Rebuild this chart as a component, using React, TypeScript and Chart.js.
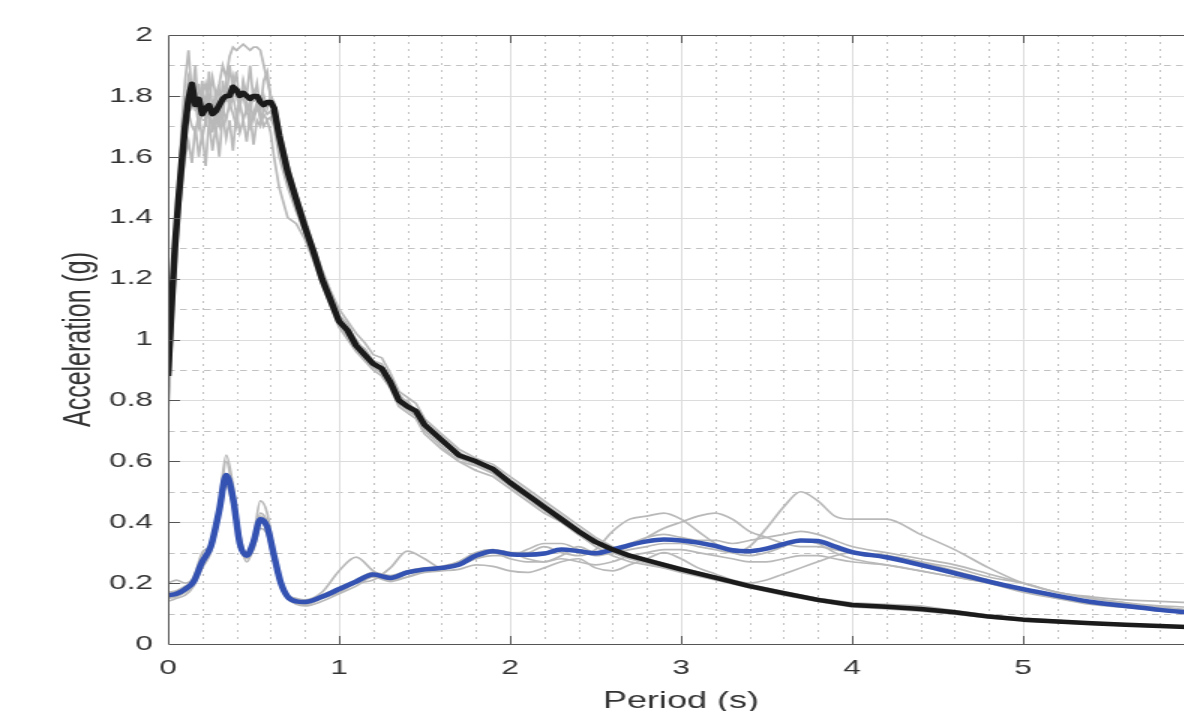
import React, { useEffect, useRef } from "react";
import { Chart, registerables } from "chart.js";

Chart.register(...registerables);

// ---------- data ----------
const periodsA = [
  0, 0.02, 0.04, 0.06, 0.08, 0.1, 0.12, 0.14, 0.16, 0.18, 0.2, 0.22, 0.24, 0.26, 0.28, 0.3,
  0.32, 0.34, 0.36, 0.38, 0.4, 0.42, 0.44, 0.46, 0.48, 0.5, 0.52, 0.54, 0.56, 0.58, 0.6, 0.62,
  0.65, 0.7, 0.75, 0.8, 0.85, 0.9, 0.95, 1.0, 1.05, 1.1, 1.15, 1.2, 1.25, 1.3, 1.35, 1.4, 1.45, 1.5,
  1.6, 1.7, 1.8, 1.9, 2.0, 2.1, 2.2, 2.3, 2.4, 2.5, 2.6, 2.7, 2.8, 2.9, 3.0,
  3.2, 3.4, 3.6, 3.8, 4.0, 4.2, 4.4, 4.6, 4.8, 5.0, 5.2, 5.4, 5.6, 5.8, 6.0,
];

const meanBlack = [
  0.88, 1.1, 1.3, 1.45, 1.58, 1.7, 1.79, 1.84, 1.77, 1.79, 1.74, 1.76, 1.77, 1.74, 1.75, 1.77,
  1.79, 1.8, 1.8, 1.83, 1.82, 1.8, 1.81, 1.8, 1.79, 1.8, 1.8, 1.78, 1.77, 1.78, 1.78, 1.76,
  1.67, 1.55, 1.46, 1.37, 1.29, 1.2, 1.13, 1.06, 1.03, 0.98, 0.95, 0.92, 0.905, 0.86, 0.8, 0.78, 0.765, 0.72,
  0.67, 0.62, 0.6, 0.575, 0.53, 0.49, 0.45, 0.41, 0.37, 0.335, 0.31, 0.29, 0.275, 0.26, 0.245,
  0.218, 0.19, 0.167, 0.145, 0.128, 0.122, 0.115, 0.104, 0.09, 0.08, 0.074, 0.068, 0.063, 0.059, 0.055,
];

const recA1 = [
  0.8, 1.05, 1.3, 1.5, 1.65, 1.75, 1.8, 1.78, 1.82, 1.76, 1.8, 1.84, 1.78, 1.86, 1.8, 1.84,
  1.9, 1.86, 1.93, 1.96, 1.95, 1.96, 1.97, 1.96, 1.95, 1.96, 1.96, 1.95, 1.9, 1.85, 1.8, 1.77,
  1.66, 1.55, 1.45, 1.36, 1.28, 1.2, 1.12, 1.07, 1.04, 1.0, 0.96, 0.92, 0.9, 0.86, 0.82, 0.79, 0.77, 0.73,
  0.68, 0.63, 0.6, 0.57, 0.53, 0.5, 0.46, 0.42, 0.38, 0.34, 0.31, 0.29, 0.27, 0.255, 0.24,
  0.215, 0.19, 0.17, 0.15, 0.135, 0.13, 0.125, 0.11, 0.095, 0.085, 0.078, 0.07, 0.065, 0.06, 0.056,
];
const recA2 = [
  0.78, 1.0, 1.25, 1.45, 1.7, 1.85, 1.95, 1.8, 1.9, 1.72, 1.85, 1.7, 1.88, 1.75, 1.82, 1.7,
  1.85, 1.78, 1.9, 1.82, 1.88, 1.76, 1.85, 1.8, 1.9, 1.78, 1.84, 1.76, 1.85, 1.88, 1.8, 1.75,
  1.68, 1.57, 1.47, 1.38, 1.3, 1.22, 1.15, 1.08, 1.05, 0.99, 0.97, 0.93, 0.92, 0.87, 0.8, 0.8, 0.76, 0.71,
  0.67, 0.61, 0.59, 0.58, 0.54, 0.5, 0.45, 0.41, 0.37, 0.33, 0.3, 0.28, 0.27, 0.26, 0.245,
  0.22, 0.195, 0.17, 0.148, 0.13, 0.125, 0.118, 0.105, 0.092, 0.082, 0.075, 0.07, 0.064, 0.06, 0.056,
];
const recA3 = [
  0.76, 0.98, 1.2, 1.38, 1.5, 1.6, 1.65, 1.58, 1.7, 1.6, 1.68, 1.57, 1.72, 1.62, 1.7, 1.6,
  1.74, 1.66, 1.72, 1.62, 1.75, 1.68, 1.72, 1.65, 1.74, 1.64, 1.72, 1.7, 1.74, 1.72, 1.73, 1.7,
  1.6, 1.5, 1.42, 1.35, 1.27, 1.19, 1.12, 1.05, 1.01, 0.97, 0.94, 0.91, 0.89, 0.85, 0.79, 0.77, 0.75, 0.7,
  0.65, 0.6, 0.57, 0.55, 0.51, 0.47, 0.43, 0.4, 0.36, 0.32, 0.29, 0.27, 0.26, 0.25, 0.235,
  0.21, 0.185, 0.16, 0.14, 0.122, 0.115, 0.108, 0.098, 0.086, 0.076, 0.07, 0.065, 0.06, 0.056, 0.052,
];
const recA4 = [
  0.85, 1.1, 1.32, 1.48, 1.62, 1.72, 1.82, 1.76, 1.78, 1.7, 1.74, 1.78, 1.72, 1.76, 1.7, 1.78,
  1.74, 1.82, 1.76, 1.8, 1.74, 1.78, 1.8, 1.75, 1.78, 1.72, 1.76, 1.74, 1.7, 1.72, 1.68, 1.6,
  1.5, 1.4, 1.38, 1.33, 1.26, 1.18, 1.11, 1.04, 1.0, 0.96, 0.93, 0.9, 0.88, 0.84, 0.78, 0.76, 0.74, 0.69,
  0.64, 0.6, 0.585, 0.56, 0.52, 0.48, 0.44, 0.4, 0.36, 0.33, 0.3, 0.28, 0.265, 0.25, 0.24,
  0.215, 0.19, 0.165, 0.145, 0.128, 0.12, 0.112, 0.1, 0.088, 0.078, 0.072, 0.066, 0.061, 0.057, 0.053,
];
const recA5 = [
  0.9, 1.12, 1.35, 1.5, 1.62, 1.74, 1.86, 1.82, 1.75, 1.84, 1.76, 1.8, 1.74, 1.7, 1.78, 1.82,
  1.76, 1.84, 1.78, 1.86, 1.8, 1.76, 1.84, 1.78, 1.74, 1.82, 1.79, 1.75, 1.8, 1.76, 1.8, 1.78,
  1.7, 1.58, 1.48, 1.4, 1.31, 1.23, 1.16, 1.1, 1.06, 1.02, 0.99, 0.95, 0.94, 0.89, 0.83, 0.81, 0.79, 0.74,
  0.69, 0.64, 0.61, 0.59, 0.55, 0.51, 0.47, 0.43, 0.39, 0.35, 0.32, 0.295, 0.28, 0.265, 0.25,
  0.222, 0.195, 0.172, 0.15, 0.132, 0.126, 0.12, 0.108, 0.094, 0.083, 0.077, 0.071, 0.066, 0.061, 0.057,
];
const recA6 = [
  0.82, 1.05, 1.27, 1.42, 1.56, 1.66, 1.74, 1.7, 1.68, 1.74, 1.66, 1.72, 1.78, 1.68, 1.74, 1.7,
  1.76, 1.72, 1.78, 1.74, 1.7, 1.78, 1.72, 1.76, 1.7, 1.74, 1.78, 1.72, 1.76, 1.74, 1.75, 1.72,
  1.63, 1.52, 1.44, 1.35, 1.27, 1.19, 1.12, 1.05, 1.02, 0.97, 0.94, 0.91, 0.89, 0.85, 0.79, 0.77, 0.75, 0.71,
  0.66, 0.62, 0.59, 0.565, 0.52, 0.48, 0.44, 0.405, 0.37, 0.335, 0.305, 0.285, 0.27, 0.255, 0.24,
  0.212, 0.188, 0.165, 0.142, 0.125, 0.118, 0.112, 0.1, 0.088, 0.079, 0.073, 0.067, 0.062, 0.058, 0.054,
];

const periodsB = [
  0, 0.05, 0.1, 0.15, 0.2, 0.25, 0.3, 0.34, 0.38, 0.42, 0.46, 0.5, 0.54, 0.58, 0.62, 0.66, 0.7, 0.75, 0.8,
  0.9, 1.0, 1.1, 1.2, 1.3, 1.4, 1.5, 1.6, 1.7, 1.8, 1.9,
  2.0, 2.1, 2.2, 2.3, 2.4, 2.5, 2.6, 2.7, 2.8, 2.9, 3.0, 3.1, 3.2, 3.3, 3.4, 3.5, 3.6, 3.7, 3.8, 3.9, 4.0,
  4.2, 4.4, 4.6, 4.8, 5.0, 5.2, 5.4, 5.6, 5.8, 6.0,
];

const meanBlue = [
  0.16, 0.165, 0.18, 0.205, 0.27, 0.32, 0.44, 0.555, 0.48, 0.33, 0.29, 0.335, 0.41, 0.385, 0.29, 0.2, 0.155, 0.14, 0.138,
  0.155, 0.18, 0.205, 0.228, 0.217, 0.235, 0.245, 0.25, 0.26, 0.29, 0.305,
  0.295, 0.293, 0.297, 0.31, 0.305, 0.298, 0.31, 0.325, 0.337, 0.343, 0.34, 0.333, 0.322, 0.308, 0.305, 0.313, 0.328, 0.34, 0.338, 0.32, 0.302,
  0.285, 0.26, 0.233, 0.205, 0.18, 0.158, 0.138, 0.125, 0.112, 0.102,
];

const recB1 = [
  0.15, 0.16, 0.17, 0.2, 0.26, 0.31, 0.45, 0.6, 0.5, 0.34, 0.27, 0.32, 0.43, 0.4, 0.3, 0.2, 0.15, 0.135, 0.13,
  0.15, 0.175, 0.2, 0.22, 0.21, 0.23, 0.24, 0.245, 0.26, 0.28, 0.3,
  0.3, 0.28, 0.27, 0.29, 0.32, 0.3, 0.3, 0.31, 0.32, 0.33, 0.33, 0.32, 0.31, 0.3, 0.32, 0.38, 0.45, 0.5, 0.47, 0.42, 0.41,
  0.41, 0.36, 0.31, 0.25, 0.2, 0.17, 0.155, 0.145, 0.14, 0.135,
];
const recB2 = [
  0.2, 0.21, 0.2, 0.22, 0.3, 0.33, 0.46, 0.62, 0.52, 0.36, 0.3, 0.35, 0.47, 0.43, 0.3, 0.2, 0.16, 0.15, 0.145,
  0.17, 0.24, 0.285, 0.24, 0.21, 0.22, 0.24, 0.25, 0.27, 0.3, 0.31,
  0.3, 0.3, 0.32, 0.3, 0.29, 0.31, 0.37, 0.41, 0.42, 0.43, 0.41, 0.37, 0.33, 0.3, 0.29, 0.3, 0.32, 0.34, 0.33, 0.3, 0.28,
  0.26, 0.24, 0.22, 0.2, 0.17, 0.15, 0.14, 0.13, 0.12, 0.11,
];
const recB3 = [
  0.15, 0.155, 0.17, 0.2, 0.26, 0.32, 0.43, 0.53, 0.47, 0.33, 0.29, 0.33, 0.4, 0.37, 0.28, 0.19, 0.15, 0.14, 0.14,
  0.155, 0.18, 0.2, 0.21, 0.25, 0.305, 0.28, 0.25, 0.26, 0.28, 0.29,
  0.29, 0.31, 0.33, 0.33, 0.31, 0.29, 0.3, 0.32, 0.35, 0.38, 0.4, 0.42, 0.43, 0.41, 0.37, 0.35, 0.33, 0.32, 0.32, 0.31, 0.3,
  0.29, 0.27, 0.25, 0.22, 0.2, 0.17, 0.15, 0.135, 0.125, 0.12,
];
const recB4 = [
  0.14, 0.15, 0.16, 0.19, 0.25, 0.3, 0.42, 0.52, 0.45, 0.32, 0.28, 0.31, 0.38, 0.36, 0.27, 0.19, 0.15, 0.13, 0.125,
  0.14, 0.165, 0.19, 0.22, 0.205, 0.22, 0.235, 0.24, 0.245, 0.26, 0.255,
  0.24, 0.235, 0.25, 0.27, 0.28, 0.25, 0.24, 0.26, 0.28, 0.3, 0.28, 0.25, 0.23, 0.21, 0.2, 0.21, 0.23, 0.25, 0.27, 0.29, 0.3,
  0.29, 0.27, 0.24, 0.21, 0.18, 0.155, 0.14, 0.13, 0.12, 0.11,
];
const recB5 = [
  0.17, 0.175, 0.19, 0.21, 0.28, 0.32, 0.44, 0.56, 0.48, 0.34, 0.3, 0.34, 0.42, 0.39, 0.29, 0.2, 0.16, 0.145, 0.14,
  0.16, 0.185, 0.21, 0.235, 0.225, 0.24, 0.25, 0.255, 0.27, 0.3, 0.31,
  0.3, 0.29, 0.3, 0.31, 0.31, 0.3, 0.31, 0.33, 0.35, 0.36, 0.35, 0.34, 0.34, 0.33, 0.34, 0.35, 0.36, 0.37, 0.36, 0.34, 0.32,
  0.3, 0.28, 0.26, 0.23, 0.2, 0.17, 0.15, 0.135, 0.12, 0.11,
];
const recB6 = [
  0.15, 0.16, 0.175, 0.2, 0.27, 0.32, 0.43, 0.54, 0.46, 0.33, 0.29, 0.32, 0.4, 0.38, 0.28, 0.19, 0.15, 0.135, 0.13,
  0.15, 0.17, 0.2, 0.22, 0.215, 0.235, 0.24, 0.25, 0.265, 0.29, 0.3,
  0.28, 0.27, 0.27, 0.28, 0.27, 0.26, 0.27, 0.29, 0.3, 0.31, 0.31, 0.3, 0.29, 0.28, 0.27, 0.27, 0.28, 0.29, 0.29, 0.28, 0.27,
  0.26, 0.24, 0.22, 0.2, 0.175, 0.15, 0.13, 0.12, 0.11, 0.1,
];

const xTickStep = 1;
const yTickStep = 0.2;
const xTitle = "Period (s)";
const yTitle = "Acceleration (g)";

// ---------- layout ----------
const STRETCH = 1.5;
const CANVAS_W = 830;
const CANVAS_H = 711;
const FONT = "'Liberation Sans', Arial, Helvetica, sans-serif";

const toPoints = (xs: number[], ys: number[]) => xs.map((x, i) => ({ x, y: ys[i] }));
const fmtTick = (v: any) => String(Number(Number(v).toFixed(2)));

export default function App() {
  const ref = useRef<HTMLCanvasElement>(null);

  useEffect(() => {
    const canvas = ref.current;
    if (!canvas) return;

    const gridPlugin = {
      id: "matlabGrid",
      beforeDatasetsDraw(chart: any) {
        const { ctx, chartArea } = chart;
        const { left, right, top, bottom } = chartArea;
        const xs = chart.scales.x;
        const ys = chart.scales.y;
        ctx.save();
        ctx.lineWidth = 1;
        ctx.strokeStyle = "#c2c2c2";
        ctx.setLineDash([2, 5]);
        for (let k = 1; k < 30; k++) {
          if (k % 5 === 0) continue;
          const px = Math.round(xs.getPixelForValue(k / 5)) + 0.5;
          ctx.beginPath();
          ctx.moveTo(px, top);
          ctx.lineTo(px, bottom);
          ctx.stroke();
        }
        ctx.setLineDash([4.5, 3.5]);
        for (let k = 0; k < 10; k++) {
          const py = Math.round(ys.getPixelForValue((2 * k + 1) / 10)) + 0.5;
          ctx.beginPath();
          ctx.moveTo(left, py);
          ctx.lineTo(right, py);
          ctx.stroke();
        }
        ctx.setLineDash([]);
        ctx.strokeStyle = "#dcdcdc";
        for (let k = 1; k < 6; k++) {
          const px = Math.round(xs.getPixelForValue(k)) + 0.5;
          ctx.beginPath();
          ctx.moveTo(px, top);
          ctx.lineTo(px, bottom);
          ctx.stroke();
        }
        for (let k = 1; k < 10; k++) {
          const py = Math.round(ys.getPixelForValue(k / 5)) + 0.5;
          ctx.beginPath();
          ctx.moveTo(left, py);
          ctx.lineTo(right, py);
          ctx.stroke();
        }
        ctx.restore();
      },
      afterDatasetsDraw(chart: any) {
        const { ctx, chartArea } = chart;
        const { left, right, top, bottom } = chartArea;
        const xs = chart.scales.x;
        const ys = chart.scales.y;
        ctx.save();
        ctx.strokeStyle = "#555555";
        ctx.lineWidth = 1;
        ctx.beginPath();
        ctx.moveTo(left + 0.5, top + 0.5);
        ctx.lineTo(right + 0.5, top + 0.5);
        ctx.lineTo(right + 0.5, bottom + 0.5);
        ctx.lineTo(left + 0.5, bottom + 0.5);
        ctx.closePath();
        ctx.stroke();
        const tl = 8;
        for (let k = 1; k < 6; k++) {
          const px = Math.round(xs.getPixelForValue(k)) + 0.5;
          ctx.beginPath();
          ctx.moveTo(px, bottom);
          ctx.lineTo(px, bottom - tl);
          ctx.moveTo(px, top);
          ctx.lineTo(px, top + tl);
          ctx.stroke();
        }
        for (let k = 1; k < 10; k++) {
          const py = Math.round(ys.getPixelForValue(k / 5)) + 0.5;
          ctx.beginPath();
          ctx.moveTo(left, py);
          ctx.lineTo(left + tl, py);
          ctx.stroke();
        }
        ctx.restore();
      },
    };

    const gray = "#b9b9b9";
    const grayDs = (xs: number[], ys: number[], smooth: boolean) => ({
      data: toPoints(xs, ys),
      borderColor: gray,
      borderWidth: 1.7,
      pointRadius: 0,
      fill: false,
      tension: smooth ? 0.4 : 0,
      cubicInterpolationMode: smooth ? "monotone" : "default",
    });

    const chart = new Chart(canvas, {
      type: "line",
      data: {
        datasets: [
          {
            data: toPoints(periodsA, meanBlack),
            borderColor: "#1b1b1b",
            borderWidth: 4.5,
            pointRadius: 0,
            fill: false,
            tension: 0,
            borderJoinStyle: "round",
          },
          {
            data: toPoints(periodsB, meanBlue),
            borderColor: "#3352b2",
            borderWidth: 4.5,
            pointRadius: 0,
            fill: false,
            cubicInterpolationMode: "monotone",
            borderJoinStyle: "round",
          },
          grayDs(periodsA, recA1, false),
          grayDs(periodsA, recA2, false),
          grayDs(periodsA, recA3, false),
          grayDs(periodsA, recA4, false),
          grayDs(periodsA, recA5, false),
          grayDs(periodsA, recA6, false),
          grayDs(periodsB, recB1, true),
          grayDs(periodsB, recB2, true),
          grayDs(periodsB, recB3, true),
          grayDs(periodsB, recB4, true),
          grayDs(periodsB, recB5, true),
          grayDs(periodsB, recB6, true),
        ] as any,
      },
      options: {
        animation: false,
        responsive: false,
        devicePixelRatio: 1,
        events: [],
        layout: { padding: { left: 0, right: CANVAS_W - 796, top: 35, bottom: 0 } },
        plugins: { legend: { display: false }, tooltip: { enabled: false } },
        scales: {
          x: {
            type: "linear",
            min: 0,
            max: 6,
            grid: { display: false, drawTicks: false },
            border: { display: false },
            ticks: {
              stepSize: xTickStep,
              color: "#333333",
              font: { family: FONT, size: 21 },
              padding: 12,
              maxRotation: 0,
              autoSkip: false,
              callback: fmtTick,
            },
            title: {
              display: true,
              text: xTitle,
              color: "#333333",
              font: { family: FONT, size: 24, lineHeight: 0.8 },
              padding: 0,
            },
            afterFit: (s: any) => {
              s.height = CANVAS_H - 644;
            },
          },
          y: {
            type: "linear",
            min: 0,
            max: 2,
            grid: { display: false, drawTicks: false },
            border: { display: false },
            ticks: {
              stepSize: yTickStep,
              color: "#333333",
              font: { family: FONT, size: 21 },
              padding: 10,
              autoSkip: false,
              callback: fmtTick,
            },
            title: {
              display: true,
              text: yTitle,
              color: "#333333",
              font: { family: FONT, size: 25 },
              padding: { top: 38, bottom: 0 },
            },
            afterFit: (s: any) => {
              s.width = 112;
            },
          },
        },
      } as any,
      plugins: [gridPlugin],
    });

    return () => chart.destroy();
  }, []);

  return (
    <div
      style={{
        position: "fixed",
        left: 0,
        top: 0,
        width: 1184,
        height: 711,
        overflow: "hidden",
        background: "#ffffff",
      }}
    >
      <canvas
        ref={ref}
        width={CANVAS_W}
        height={CANVAS_H}
        style={{ width: `${CANVAS_W * STRETCH}px`, height: `${CANVAS_H}px`, display: "block" }}
      />
    </div>
  );
}
